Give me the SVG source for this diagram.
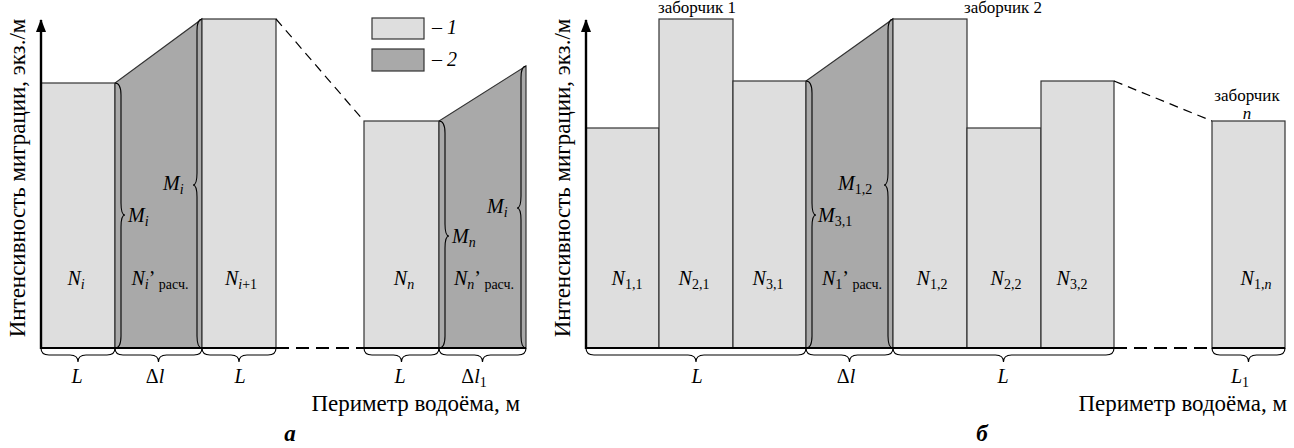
<svg xmlns="http://www.w3.org/2000/svg" width="1294" height="448" viewBox="0 0 1294 448" font-family="'Liberation Serif', 'Times New Roman', serif">
<defs>
<style>
.bg{fill:#fff}
.l1{fill:#dedede;stroke:#333;stroke-width:1.2}
.l2{fill:#a9a9a9;stroke:#333;stroke-width:1.2}
.axis{stroke:#000;stroke-width:2.4;fill:none}
.base{stroke:#000;stroke-width:2.2;fill:none}
.dashb{stroke:#000;stroke-width:2;stroke-dasharray:13 7;fill:none}
.dashd{stroke:#000;stroke-width:1.2;stroke-dasharray:9 6;fill:none}
.br{stroke:#000;stroke-width:1.1;fill:none}
.t{font-size:20px}
.it{font-style:italic}
.s{font-size:14px}
.ax{font-size:23px}
.cap{font-size:17px}
.bi{font-size:23px;font-weight:bold;font-style:italic}
</style>
<marker id="arr" viewBox="0 0 10 14" refX="5" refY="1" markerWidth="10" markerHeight="14" markerUnits="userSpaceOnUse" orient="0">
<path d="M0,13 L5,0 L10,13 Z" fill="#000"/>
</marker>
</defs>
<rect class="bg" x="0" y="0" width="1294" height="448"/>

<!-- Panel a -->
<g id="a-Ni"><rect class="l1" x="41" y="83" width="74" height="265"/>
<text class="t" x="76" y="285" text-anchor="middle"><tspan class="it">N</tspan><tspan class="it s" dy="4">i</tspan></text></g>
<g id="a-Nic"><polygon class="l2" points="115,348 115,83 202,19 202,348"/>
<text class="t" x="160" y="285" text-anchor="middle"><tspan class="it">N</tspan><tspan class="it s" dy="4">i</tspan><tspan dy="-4">’</tspan><tspan class="s" dy="4"> расч.</tspan></text></g>
<g id="a-Ni1"><rect class="l1" x="202" y="19" width="74" height="329"/>
<text class="t" x="241" y="285" text-anchor="middle"><tspan class="it">N</tspan><tspan class="s" dy="4"><tspan class="it">i</tspan>+1</tspan></text></g>
<g id="a-Nn"><rect class="l1" x="364" y="121" width="75" height="227"/>
<text class="t" x="404" y="285" text-anchor="middle"><tspan class="it">N</tspan><tspan class="it s" dy="4">n</tspan></text></g>
<g id="a-Nnc"><polygon class="l2" points="439,348 439,121 526,66 526,348"/>
<text class="t" x="484" y="285" text-anchor="middle"><tspan class="it">N</tspan><tspan class="it s" dy="4">n</tspan><tspan dy="-4">’</tspan><tspan class="s" dy="4"> расч.</tspan></text></g>

<g id="legend">
<rect class="l1" x="372" y="18" width="52" height="21"/>
<rect class="l2" x="372" y="49" width="52" height="22"/>
<text class="t" x="432" y="34">– <tspan class="it">1</tspan></text>
<text class="t" x="432" y="66">– <tspan class="it">2</tspan></text>
</g>

<!-- Panel b -->
<g id="b-N11"><rect class="l1" x="586" y="128" width="73" height="220"/>
<text class="t" x="627" y="285" text-anchor="middle"><tspan class="it">N</tspan><tspan class="s" dy="4">1,1</tspan></text></g>
<g id="b-N21"><rect class="l1" x="659" y="19" width="74" height="329"/>
<text class="t" x="694" y="285" text-anchor="middle"><tspan class="it">N</tspan><tspan class="s" dy="4">2,1</tspan></text></g>
<g id="b-N31"><rect class="l1" x="733" y="81" width="73" height="267"/>
<text class="t" x="768" y="285" text-anchor="middle"><tspan class="it">N</tspan><tspan class="s" dy="4">3,1</tspan></text></g>
<g id="b-N1c"><polygon class="l2" points="806,348 806,81 893,19 893,348"/>
<text class="t" x="852" y="285" text-anchor="middle"><tspan class="it">N</tspan><tspan class="s" dy="4">1</tspan><tspan dy="-4">’</tspan><tspan class="s" dy="4"> расч.</tspan></text></g>
<g id="b-N12"><rect class="l1" x="893" y="19" width="74" height="329"/>
<text class="t" x="932" y="285" text-anchor="middle"><tspan class="it">N</tspan><tspan class="s" dy="4">1,2</tspan></text></g>
<g id="b-N22"><rect class="l1" x="967" y="128" width="74" height="220"/>
<text class="t" x="1006" y="285" text-anchor="middle"><tspan class="it">N</tspan><tspan class="s" dy="4">2,2</tspan></text></g>
<g id="b-N32"><rect class="l1" x="1041" y="81" width="73" height="267"/>
<text class="t" x="1072" y="285" text-anchor="middle"><tspan class="it">N</tspan><tspan class="s" dy="4">3,2</tspan></text></g>
<g id="b-N1n"><rect class="l1" x="1212" y="121" width="73" height="227"/>
<text class="t" x="1256" y="285" text-anchor="middle"><tspan class="it">N</tspan><tspan class="s" dy="4">1,<tspan class="it">n</tspan></tspan></text></g>

<g id="connectors">
<line class="dashd" x1="276" y1="19" x2="364" y2="121"/>
<line class="dashd" x1="1114" y1="81" x2="1212" y2="121"/>
<line class="base" x1="41" y1="348" x2="276" y2="348"/>
<line class="dashb" x1="276" y1="348" x2="364" y2="348"/>
<line class="base" x1="364" y1="348" x2="526" y2="348"/>
<line class="base" x1="586" y1="348" x2="1114" y2="348"/>
<line class="dashb" x1="1114" y1="348" x2="1212" y2="348"/>
<line class="base" x1="1212" y1="348" x2="1285" y2="348"/>
<line class="axis" x1="41" y1="349" x2="41" y2="20" marker-end="url(#arr)"/>
<line class="axis" x1="586" y1="349" x2="586" y2="20" marker-end="url(#arr)"/>
</g>

<g id="braces">
<path class="br" d="M115,83 Q121,83 121,95 L121,203 Q121,215 125,215 Q121,215 121,227 L121,336 Q121,348 115,348"/>
<path class="br" d="M202,19 Q197,19 197,31 L197,173 Q197,185 193,185 Q197,185 197,197 L197,336 Q197,348 202,348"/>
<path class="br" d="M439,121 Q445,121 445,133 L445,224 Q445,236 449,236 Q445,236 445,248 L445,336 Q445,348 439,348"/>
<path class="br" d="M526,66 Q521,66 521,78 L521,196 Q521,208 517,208 Q521,208 521,220 L521,336 Q521,348 526,348"/>
<path class="br" d="M806,81 Q812,81 812,93 L812,203 Q812,215 816,215 Q812,215 812,227 L812,336 Q812,348 806,348"/>
<path class="br" d="M893,19 Q888,19 888,31 L888,173 Q888,185 884,185 Q888,185 888,197 L888,336 Q888,348 893,348"/>
<path class="br" d="M41,348 Q41,355 49,355 L70,355 Q78,355 78,362 Q78,355 86,355 L107,355 Q115,355 115,348"/>
<path class="br" d="M115,348 Q115,355 123,355 L150.5,355 Q158.5,355 158.5,362 Q158.5,355 166.5,355 L194,355 Q202,355 202,348"/>
<path class="br" d="M202,348 Q202,355 210,355 L231,355 Q239,355 239,362 Q239,355 247,355 L268,355 Q276,355 276,348"/>
<path class="br" d="M364,348 Q364,355 372,355 L393.5,355 Q401.5,355 401.5,362 Q401.5,355 409.5,355 L431,355 Q439,355 439,348"/>
<path class="br" d="M439,348 Q439,355 447,355 L474.5,355 Q482.5,355 482.5,362 Q482.5,355 490.5,355 L518,355 Q526,355 526,348"/>
<path class="br" d="M586,348 Q586,355 594,355 L688,355 Q696,355 696,362 Q696,355 704,355 L798,355 Q806,355 806,348"/>
<path class="br" d="M806,348 Q806,355 814,355 L841.5,355 Q849.5,355 849.5,362 Q849.5,355 857.5,355 L885,355 Q893,355 893,348"/>
<path class="br" d="M893,348 Q893,355 901,355 L995.5,355 Q1003.5,355 1003.5,362 Q1003.5,355 1011.5,355 L1106,355 Q1114,355 1114,348"/>
<path class="br" d="M1212,348 Q1212,355 1220,355 L1240.5,355 Q1248.5,355 1248.5,362 Q1248.5,355 1256.5,355 L1277,355 Q1285,355 1285,348"/>
</g>

<g id="labels">
<text class="t" x="128" y="222"><tspan class="it">M</tspan><tspan class="it s" dy="4">i</tspan></text>
<text class="t" x="163" y="190"><tspan class="it">M</tspan><tspan class="it s" dy="4">i</tspan></text>
<text class="t" x="452" y="243"><tspan class="it">M</tspan><tspan class="it s" dy="4">n</tspan></text>
<text class="t" x="487" y="213"><tspan class="it">M</tspan><tspan class="it s" dy="4">i</tspan></text>
<text class="t" x="818" y="222"><tspan class="it">M</tspan><tspan class="s" dy="4">3,1</tspan></text>
<text class="t" x="838" y="190"><tspan class="it">M</tspan><tspan class="s" dy="4">1,2</tspan></text>

<text class="t it" x="77" y="383" text-anchor="middle">L</text>
<text class="t" x="155" y="383" text-anchor="middle">Δ<tspan class="it">l</tspan></text>
<text class="t it" x="240" y="383" text-anchor="middle">L</text>
<text class="t it" x="400" y="383" text-anchor="middle">L</text>
<text class="t" x="474" y="383" text-anchor="middle">Δ<tspan class="it">l</tspan><tspan class="s" dy="4">1</tspan></text>
<text class="t it" x="697" y="383" text-anchor="middle">L</text>
<text class="t" x="846" y="383" text-anchor="middle">Δ<tspan class="it">l</tspan></text>
<text class="t it" x="1003" y="383" text-anchor="middle">L</text>
<text class="t" x="1240" y="383" text-anchor="middle"><tspan class="it">L</tspan><tspan class="s" dy="4">1</tspan></text>

<text class="cap" x="697" y="13" text-anchor="middle">заборчик 1</text>
<text class="cap" x="1003" y="13" text-anchor="middle">заборчик 2</text>
<text class="cap" x="1247" y="101" text-anchor="middle">заборчик</text>
<text class="cap it" x="1247" y="119" text-anchor="middle">n</text>

<text class="ax" x="520" y="411" text-anchor="end">Периметр водоёма, м</text>
<text class="ax" x="1287" y="411" text-anchor="end">Периметр водоёма, м</text>
<text class="ax" transform="translate(25,178) rotate(-90)" text-anchor="middle">Интенсивность миграции, экз./м</text>
<text class="ax" transform="translate(570,178) rotate(-90)" text-anchor="middle">Интенсивность миграции, экз./м</text>
<text class="bi" x="290" y="441" text-anchor="middle">а</text>
<text class="bi" x="982" y="441" text-anchor="middle">б</text>
</g>
</svg>
